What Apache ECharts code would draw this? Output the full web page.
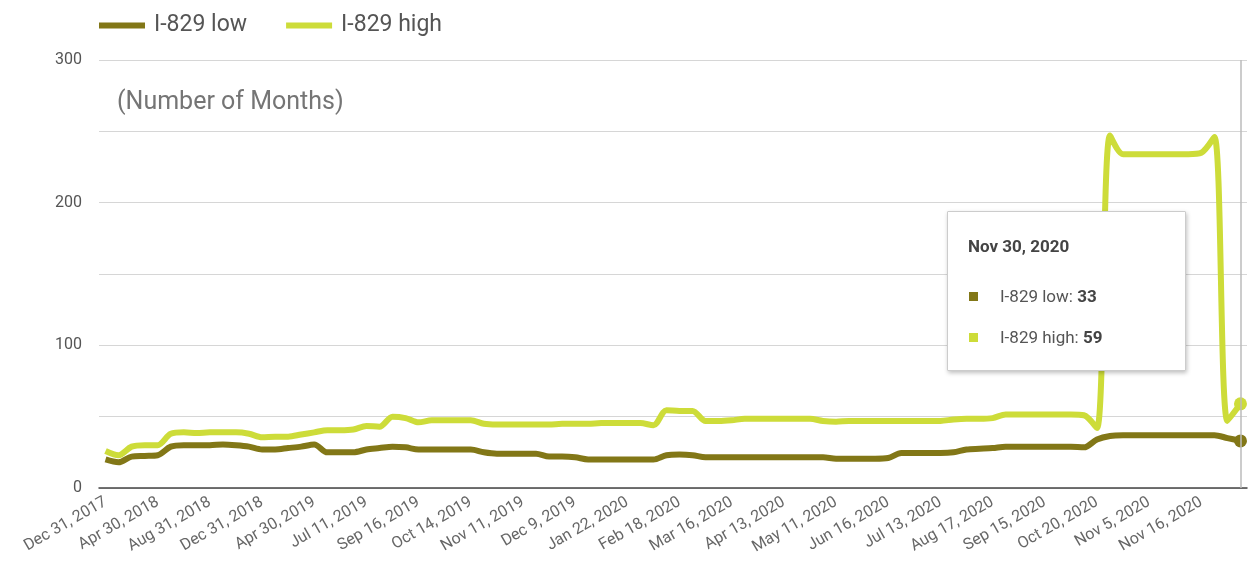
<!DOCTYPE html>
<html>
<head>
<meta charset="utf-8">
<title>I-829</title>
<script src="https://cdn.jsdelivr.net/npm/echarts@6/dist/echarts.min.js"></script>
<style>
  html, body { margin: 0; padding: 0; background: #fff; }
  #main { width: 1254px; height: 569px; }
</style>
</head>
<body>
<div id="main"></div>
<script>
var dates = [
  'Dec 31, 2017', 'Jan 31, 2018', 'Feb 28, 2018', 'Mar 31, 2018', 'Apr 30, 2018', 'May 31, 2018',
  'Jun 30, 2018', 'Jul 31, 2018', 'Aug 31, 2018', 'Sep 30, 2018', 'Oct 31, 2018', 'Nov 30, 2018',
  'Dec 31, 2018', 'Jan 31, 2019', 'Feb 28, 2019', 'Mar 31, 2019', 'Apr 30, 2019', 'May 31, 2019',
  'Jun 18, 2019', 'Jul 1, 2019', 'Jul 11, 2019', 'Jul 25, 2019', 'Aug 8, 2019', 'Aug 26, 2019',
  'Sep 16, 2019', 'Sep 23, 2019', 'Sep 30, 2019', 'Oct 7, 2019', 'Oct 14, 2019', 'Oct 21, 2019',
  'Oct 28, 2019', 'Nov 4, 2019', 'Nov 11, 2019', 'Nov 18, 2019', 'Nov 25, 2019', 'Dec 2, 2019',
  'Dec 9, 2019', 'Dec 17, 2019', 'Dec 31, 2019', 'Jan 14, 2020', 'Jan 22, 2020', 'Jan 27, 2020',
  'Feb 3, 2020', 'Feb 10, 2020', 'Feb 18, 2020', 'Feb 24, 2020', 'Mar 2, 2020', 'Mar 9, 2020',
  'Mar 16, 2020', 'Mar 23, 2020', 'Mar 30, 2020', 'Apr 6, 2020', 'Apr 13, 2020', 'Apr 20, 2020',
  'Apr 27, 2020', 'May 4, 2020', 'May 11, 2020', 'May 18, 2020', 'May 26, 2020', 'Jun 8, 2020',
  'Jun 16, 2020', 'Jun 22, 2020', 'Jun 29, 2020', 'Jul 6, 2020', 'Jul 13, 2020', 'Jul 20, 2020',
  'Jul 27, 2020', 'Aug 10, 2020', 'Aug 17, 2020', 'Aug 24, 2020', 'Aug 31, 2020', 'Sep 8, 2020',
  'Sep 15, 2020', 'Sep 22, 2020', 'Sep 29, 2020', 'Oct 13, 2020', 'Oct 20, 2020', 'Oct 23, 2020',
  'Oct 27, 2020', 'Oct 30, 2020', 'Nov 5, 2020', 'Nov 6, 2020', 'Nov 9, 2020', 'Nov 12, 2020',
  'Nov 16, 2020', 'Nov 19, 2020', 'Nov 24, 2020', 'Nov 30, 2020'
];

// I-829 low (months)
var low = [
  20, 18, 22, 22.5, 23, 29, 30, 30, 30, 30.5,
  30, 29, 27, 27, 28, 29, 30.5, 25, 25, 25,
  27, 28, 29, 28.5, 27, 27, 27, 27, 27, 25,
  24, 24, 24, 24, 22, 22, 21.5, 20, 20, 20,
  20, 20, 20, 23, 23.5, 23, 21.5, 21.5, 21.5, 21.5,
  21.5, 21.5, 21.5, 21.5, 21.5, 21.5, 20.5, 20.5, 20.5, 20.5,
  21, 24.5, 24.5, 24.5, 24.5, 25, 27, 27.5, 28, 29,
  29, 29, 29, 29, 29, 28.5, 34, 36.5, 37, 37,
  37, 37, 37, 37, 37, 37, 35, 33
];

// I-829 high (months)
var high = [
  26, 23, 29, 30, 30, 38, 39, 38.5, 39, 39,
  39, 38, 35.5, 36, 36, 37.5, 39, 40.5, 40.5, 41,
  43.5, 43, 50, 49, 46, 47.5, 47.5, 47.5, 47.5, 45,
  44.5, 44.5, 44.5, 44.5, 44.5, 45, 45, 45, 45.5, 45.5,
  45.5, 45.5, 44, 54.5, 54, 54, 47, 47, 47.5, 48.5,
  48.5, 48.5, 48.5, 48.5, 48.5, 47, 46.5, 47, 47, 47,
  47, 47, 47, 47, 47, 48, 48.5, 48.5, 49, 51.5,
  51.5, 51.5, 51.5, 51.5, 51.5, 51, 42, 247, 234, 234,
  234, 234, 234, 234, 235, 246, 47, 59
];

var yTicks = [0, 100, 200, 300];
var colorLow = '#827717';
var colorHigh = '#cddc39';

var chart = echarts.init(document.getElementById('main'));

// same style in normal and hover state, so the tooltip hover does not brighten the lines
function lineSeries(name, data, color) {
    return {
        name: name,
        type: 'line',
        data: data,
        smooth: 0.3,
        showSymbol: false,
        symbol: 'circle',
        symbolSize: 13,
        itemStyle: { color: color },
        lineStyle: { width: 6, color: color },
        emphasis: {
            scale: false,
            itemStyle: { color: color, borderColor: color, borderWidth: 0 },
            lineStyle: { width: 6, color: color }
        }
    };
}

chart.setOption({
    animation: false,
    textStyle: { fontFamily: 'Roboto' },
    legend: {
        left: 94,
        top: 9,
        icon: 'rect',
        itemWidth: 46,
        itemHeight: 6,
        itemGap: 39,
        textStyle: { fontSize: 23, color: '#555', padding: [0, 0, 0, 4] },
        data: ['I-829 low', 'I-829 high']
    },
    graphic: [{
        type: 'text',
        left: 117,
        top: 90,
        style: { text: '(Number of Months)', fontSize: 25, fill: '#757575', fontFamily: 'Roboto' }
    }],
    grid: { left: 99, right: 7, top: 60, bottom: 81 },
    tooltip: {
        trigger: 'axis',
        alwaysShowContent: true,
        transitionDuration: 0,
        position: [947, 211],
        backgroundColor: '#fff',
        borderColor: '#ccc',
        borderWidth: 1,
        padding: [22, 20, 21, 20],
        extraCssText: 'box-shadow: 1px 2px 4px rgba(0,0,0,0.25); border-radius: 1px;',
        axisPointer: {
            type: 'line',
            lineStyle: { color: '#bbb', width: 1.5, type: 'solid' }
        },
        formatter: function (params) {
            var html = '<div style="width:197px;font-family:Roboto;">';
            html += '<div style="font-weight:bold;font-size:17px;color:#444;line-height:24px;margin-bottom:26px;">' + params[0].name + '</div>';
            params.forEach(function (p, i) {
                html += '<div style="font-size:17px;color:#555;line-height:24px;' + (i === 0 ? 'margin-bottom:17px;' : '') + '">' +
                    '<span style="display:inline-block;width:9px;height:9px;background:' + p.color + ';margin:0 22px 2px 1px;vertical-align:middle;"></span>' +
                    p.seriesName + ': <b style="color:#444;">' + p.value + '</b></div>';
            });
            return html + '</div>';
        }
    },
    xAxis: {
        type: 'category',
        boundaryGap: true,
        data: dates,
        axisLine: { lineStyle: { color: '#444', width: 1.5 } },
        axisTick: { show: false },
        axisLabel: {
            interval: 3,
            rotate: 30,
            margin: 13,
            fontSize: 16,
            color: '#666'
        }
    },
    yAxis: {
        type: 'value',
        min: 0,
        max: 300,
        interval: 50,
        axisLine: { show: false },
        axisTick: { show: false },
        axisLabel: {
            margin: 17,
            fontSize: 16,
            color: '#555',
            formatter: function (v) { return yTicks.indexOf(v) >= 0 ? String(v) : ''; }
        },
        splitLine: { lineStyle: { color: '#d6d6d6', width: 1 } }
    },
    series: [
        lineSeries('I-829 low', low, colorLow),
        lineSeries('I-829 high', high, colorHigh)
    ]
});

chart.dispatchAction({ type: 'showTip', seriesIndex: 0, dataIndex: dates.length - 1 });
</script>
</body>
</html>
